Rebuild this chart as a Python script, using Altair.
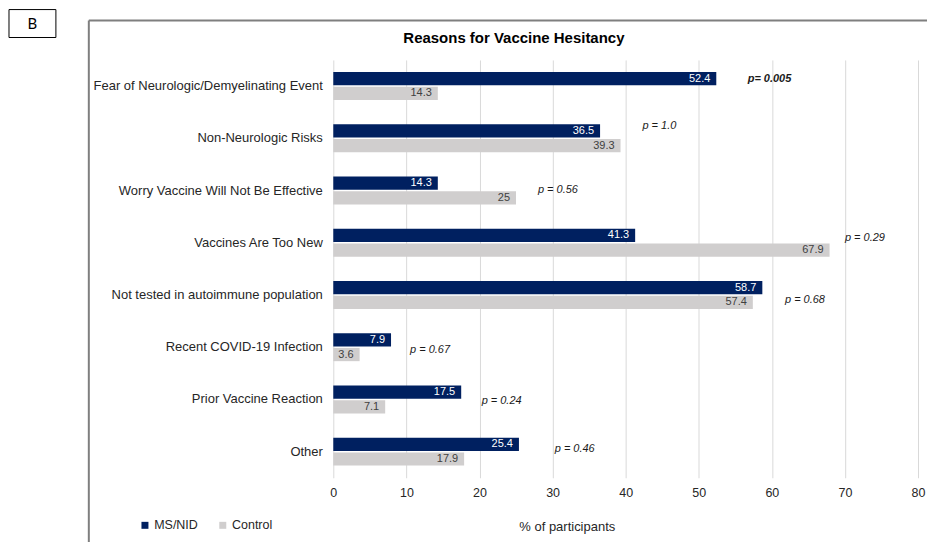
import altair as alt
import pandas as pd

categories = [
    "Fear of Neurologic/Demyelinating Event",
    "Non-Neurologic Risks",
    "Worry Vaccine Will Not Be Effective",
    "Vaccines Are Too New",
    "Not tested in autoimmune population",
    "Recent COVID-19 Infection",
    "Prior Vaccine Reaction",
    "Other",
]
groups = ["MS/NID", "Control"]
ms_nid = [52.4, 36.5, 14.3, 41.3, 58.7, 7.9, 17.5, 25.4]
control = [14.3, 39.3, 25, 67.9, 57.4, 3.6, 7.1, 17.9]
p_labels = ["p= 0.005", "p = 1.0", "p = 0.56", "p = 0.29", "p = 0.68", "p = 0.67", "p = 0.24", "p = 0.46"]
p_x = [56.7, 42.3, 28.0, 70.0, 61.8, 10.5, 20.3, 30.3]
p_dy = [-7, -12, -1, -5, 5, 3, 2, -3]
p_bold = [True, False, False, False, False, False, False, False]
x_ticks = [0, 10, 20, 30, 40, 50, 60, 70, 80]
chart_title = "Reasons for Vaccine Hesitancy"
panel_letter = "B"

FONT = "Liberation Sans"
NAVY = "#002060"
GRAY = "#D0CECE"
TXT = "#262626"

rows = []
for c, a, b in zip(categories, ms_nid, control):
    rows.append({"reason": c, "group": "MS/NID", "value": a, "label": f"{a:g}"})
    rows.append({"reason": c, "group": "Control", "value": b, "label": f"{b:g}"})
df = pd.DataFrame(rows)

pdf = pd.DataFrame({"reason": categories, "p": p_labels, "px": p_x})

yscale = alt.Scale(domain=categories, paddingInner=0.465, paddingOuter=0.2325)
xscale = alt.Scale(domain=[0, 80], nice=False)
oscale = alt.Scale(domain=groups, paddingInner=0.1, paddingOuter=0)

base = alt.Chart(df)

bars = base.mark_bar().encode(
    y=alt.Y("reason:N", scale=yscale, title=None,
            axis=alt.Axis(domain=False, ticks=False, tickSize=0, labelPadding=11,
                          labelFontSize=13, labelColor=TXT, labelFont=FONT,
                          labelLimit=400, grid=False)),
    yOffset=alt.YOffset("group:N", scale=oscale),
    x=alt.X("value:Q", scale=xscale,
            axis=alt.Axis(values=x_ticks, domain=False, ticks=False, tickSize=0,
                          labelPadding=9, labelFontSize=12.5, labelColor=TXT,
                          labelFont=FONT, labelFlush=False, grid=True,
                          gridColor="#D9D9D9",
                          title="% of participants", titleFont=FONT,
                          titleFontSize=13, titleFontWeight="normal",
                          titleColor=TXT, titleX=234, titleY=49,
                          titleBaseline="middle", titleAlign="center")),
    color=alt.Color("group:N", scale=alt.Scale(domain=groups, range=[NAVY, GRAY]),
                    legend=alt.Legend(title=None, orient="none", direction="horizontal",
                                      legendX=-195, legendY=460, symbolType="square",
                                      symbolSize=49, symbolStrokeWidth=0,
                                      labelFont=FONT, labelFontSize=12.5,
                                      labelColor=TXT, labelOffset=3,
                                      columnPadding=18)),
)

values = base.mark_text(align="right", baseline="middle", dx=-6,
                        font=FONT, fontSize=11).encode(
    y=alt.Y("reason:N", scale=yscale),
    yOffset=alt.YOffset("group:N", scale=oscale),
    x=alt.X("value:Q", scale=xscale),
    text="label:N",
    color=alt.condition(alt.datum.group == "MS/NID", alt.value("white"), alt.value("#404040")),
)

players = []
for r, dy, bold in zip(categories, p_dy, p_bold):
    players.append(
        alt.Chart(pdf).transform_filter(alt.datum.reason == r).mark_text(
            align="left", baseline="middle", dy=dy, font=FONT, fontSize=11,
            fontStyle="italic", fontWeight="bold" if bold else "normal",
            color="#1a1a1a").encode(
            y=alt.Y("reason:N", scale=yscale),
            x=alt.X("px:Q", scale=xscale),
            text="p:N",
        )
    )

one = alt.Chart(pd.DataFrame({"a": [0]}))
frame_top = one.mark_rule(color="#7F7F7F", strokeWidth=2).encode(
    x=alt.value(-245), x2=alt.value(620), y=alt.value(-39.5))
frame_left = one.mark_rule(color="#7F7F7F", strokeWidth=2).encode(
    x=alt.value(-245), y=alt.value(-39.5), y2=alt.value(520))
bbox = one.mark_rect(fill="white", stroke="black", strokeWidth=1).encode(
    x=alt.value(-325), x2=alt.value(-278), y=alt.value(-50.5), y2=alt.value(-22.5))
btext = one.mark_text(text=panel_letter, font="Lato", fontSize=15, color="black",
                      align="center", baseline="middle").encode(
    x=alt.value(-301.5), y=alt.value(-36.5))
ttext = one.mark_text(text=chart_title, font=FONT, fontSize=15, fontWeight="bold",
                      color="black", align="center", baseline="middle").encode(
    x=alt.value(181), y=alt.value(-21.5))

chart = alt.layer(frame_top, frame_left, bbox, btext, ttext, bars, values, *players).properties(
    width=586, height=418.7,
    padding={"left": 326, "top": 51.5, "right": 9, "bottom": 64},
    autosize=alt.AutoSizeParams(type="none"),
).configure(background="white", view=alt.ViewConfig(stroke=None))

chart.save("out.html", embed_options={"renderer": "svg", "actions": False})
